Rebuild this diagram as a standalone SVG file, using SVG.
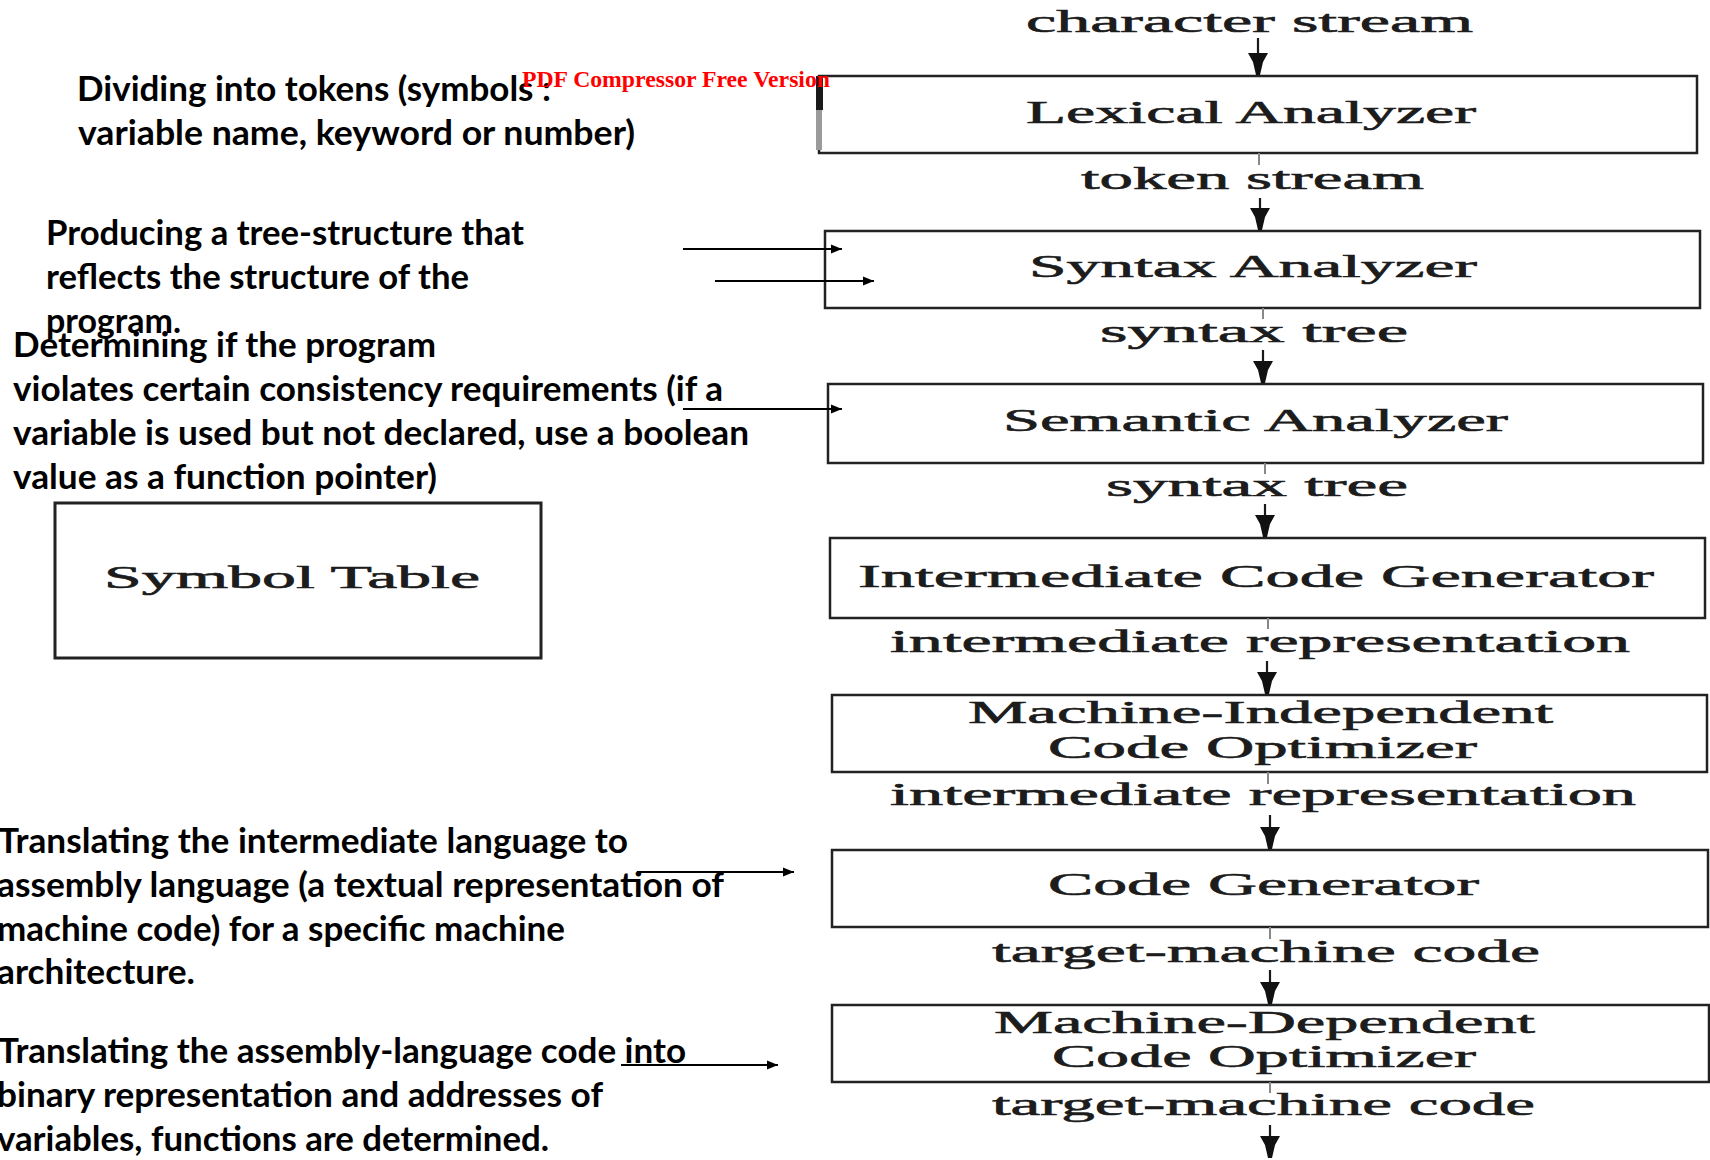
<svg xmlns="http://www.w3.org/2000/svg" width="1710" height="1160" viewBox="0 0 1710 1160">
  <defs>
    <style>
      .phase { fill: #ffffff; stroke: #222222; stroke-width: 2.5; }
      .cm { font-family: "Liberation Serif", "DejaVu Serif", serif; font-size: 32px; fill: #1c1c1c; stroke: #1c1c1c; stroke-width: 0.6; }
      .note { font-family: Lato, "Open Sans", "Liberation Sans", sans-serif; font-size: 35px; font-weight: bold; fill: #000000; }
      .stamp { font-family: "Liberation Serif", serif; font-size: 24px; font-weight: bold; fill: #ff0000; }
      .flow { fill: none; stroke: #1a1a1a; stroke-width: 2.2; }
      .stub { fill: none; stroke: #888888; stroke-width: 2; }
      .pointer { fill: none; stroke: #000000; stroke-width: 2; }
    </style>
    <!-- blunt, wide-shouldered head for the phase pipeline -->
    <marker id="flowHead" markerUnits="userSpaceOnUse" markerWidth="26" markerHeight="26" viewBox="-24 -13 26 26" refX="0" refY="0" orient="auto">
      <path d="M -22,-10 L -22,10 L -13,5 L 0,2 L 0,-2 L -13,-5 Z" fill="#111111"/>
    </marker>
    <!-- small triangular head for the description pointers -->
    <marker id="pointHead" markerUnits="userSpaceOnUse" markerWidth="12" markerHeight="10" viewBox="0 -5 12 10" refX="11" refY="0" orient="auto">
      <path d="M 0,-4.5 L 11,0 L 0,4.5 Z" fill="#000000"/>
    </marker>
  </defs>

  <rect x="0" y="0" width="1710" height="1160" fill="#ffffff"/>

  <!-- compiler phases -->
  <g id="lexical-analyzer">
    <rect class="phase" x="819" y="76" width="878" height="77"/>
    <rect x="816" y="76" width="7" height="34" fill="#1a1a1a"/>
    <rect x="816" y="110" width="6" height="40" fill="#9a9a9a"/>
    <text class="cm" x="1026" y="123" textLength="450" lengthAdjust="spacingAndGlyphs">Lexical Analyzer</text>
  </g>
  <g id="syntax-analyzer">
    <rect class="phase" x="825" y="231" width="875" height="77"/>
    <text class="cm" x="1029" y="277" textLength="448" lengthAdjust="spacingAndGlyphs">Syntax Analyzer</text>
  </g>
  <g id="semantic-analyzer">
    <rect class="phase" x="828" y="384" width="875" height="79"/>
    <text class="cm" x="1003" y="431" textLength="505" lengthAdjust="spacingAndGlyphs">Semantic Analyzer</text>
  </g>
  <g id="intermediate-code-generator">
    <rect class="phase" x="830" y="538" width="875" height="80"/>
    <text class="cm" x="858" y="587" textLength="796" lengthAdjust="spacingAndGlyphs">Intermediate Code Generator</text>
  </g>
  <g id="machine-independent-optimizer">
    <rect class="phase" x="832" y="695" width="875" height="77"/>
    <text class="cm" x="968" y="723" textLength="585" lengthAdjust="spacingAndGlyphs">Machine-Independent</text>
    <text class="cm" x="1048" y="758" textLength="429" lengthAdjust="spacingAndGlyphs">Code Optimizer</text>
  </g>
  <g id="code-generator">
    <rect class="phase" x="832" y="850" width="876" height="77"/>
    <text class="cm" x="1048" y="895" textLength="431" lengthAdjust="spacingAndGlyphs">Code Generator</text>
  </g>
  <g id="machine-dependent-optimizer">
    <rect class="phase" x="832" y="1005" width="877" height="77"/>
    <text class="cm" x="994" y="1033" textLength="541" lengthAdjust="spacingAndGlyphs">Machine-Dependent</text>
    <text class="cm" x="1052" y="1067" textLength="424" lengthAdjust="spacingAndGlyphs">Code Optimizer</text>
  </g>

  <g id="symbol-table">
    <rect x="55" y="503" width="486" height="155" fill="#ffffff" stroke="#222222" stroke-width="3"/>
    <text class="cm" x="104" y="588" textLength="376" lengthAdjust="spacingAndGlyphs">Symbol Table</text>
  </g>

  <!-- stream labels between phases -->
  <g id="stream-labels">
    <text class="cm" x="1026" y="32" textLength="447" lengthAdjust="spacingAndGlyphs">character stream</text>
    <text class="cm" x="1081" y="189" textLength="343" lengthAdjust="spacingAndGlyphs">token stream</text>
    <text class="cm" x="1100" y="342" textLength="308" lengthAdjust="spacingAndGlyphs">syntax tree</text>
    <text class="cm" x="1106" y="496" textLength="302" lengthAdjust="spacingAndGlyphs">syntax tree</text>
    <text class="cm" x="890" y="652" textLength="740" lengthAdjust="spacingAndGlyphs">intermediate representation</text>
    <text class="cm" x="890" y="805" textLength="746" lengthAdjust="spacingAndGlyphs">intermediate representation</text>
    <text class="cm" x="992" y="962" textLength="548" lengthAdjust="spacingAndGlyphs">target-machine code</text>
    <text class="cm" x="992" y="1115" textLength="543" lengthAdjust="spacingAndGlyphs">target-machine code</text>
  </g>

  <!-- phase descriptions -->
  <g id="note-lexical">
    <text class="note" x="77" y="101" textLength="474" lengthAdjust="spacingAndGlyphs">Dividing into tokens (symbols :</text>
    <text class="note" x="78" y="145" textLength="557" lengthAdjust="spacingAndGlyphs">variable name, keyword or number)</text>
  </g>
  <g id="note-syntax">
    <text class="note" x="46" y="245" textLength="478" lengthAdjust="spacingAndGlyphs">Producing a tree-structure that</text>
    <text class="note" x="46" y="289" textLength="423" lengthAdjust="spacingAndGlyphs">reflects the structure of the</text>
    <text class="note" x="46" y="333" textLength="135" lengthAdjust="spacingAndGlyphs">program.</text>
  </g>
  <g id="note-semantic">
    <text class="note" x="13" y="357" textLength="423" lengthAdjust="spacingAndGlyphs">Determining if the program</text>
    <text class="note" x="13" y="401" textLength="710" lengthAdjust="spacingAndGlyphs">violates certain consistency requirements (if a</text>
    <text class="note" x="13" y="445" textLength="736" lengthAdjust="spacingAndGlyphs">variable is used but not declared, use a boolean</text>
    <text class="note" x="13" y="489" textLength="424" lengthAdjust="spacingAndGlyphs">value as a function pointer)</text>
  </g>
  <g id="note-codegen">
    <text class="note" x="-2" y="853" textLength="630" lengthAdjust="spacingAndGlyphs">Translating the intermediate language to</text>
    <text class="note" x="-3" y="897" textLength="727" lengthAdjust="spacingAndGlyphs">assembly language (a textual representation of</text>
    <text class="note" x="-3" y="941" textLength="568" lengthAdjust="spacingAndGlyphs">machine code) for a specific machine</text>
    <text class="note" x="-3" y="984" textLength="198" lengthAdjust="spacingAndGlyphs">architecture.</text>
  </g>
  <g id="note-assembler">
    <text class="note" x="-2" y="1063" textLength="688" lengthAdjust="spacingAndGlyphs">Translating the assembly-language code into</text>
    <text class="note" x="-3" y="1107" textLength="606" lengthAdjust="spacingAndGlyphs">binary representation and addresses of</text>
    <text class="note" x="-3" y="1151" textLength="552" lengthAdjust="spacingAndGlyphs">variables, functions are determined.</text>
  </g>

  <text class="stamp" x="522" y="87" textLength="308" lengthAdjust="spacingAndGlyphs">PDF Compressor Free Version</text>

  <!-- connectors -->
  <g id="connectors">
    <line class="flow" x1="1258" y1="38" x2="1258" y2="75" marker-end="url(#flowHead)"/>

    <line class="stub" x1="1259" y1="153" x2="1259" y2="165"/>
    <line class="flow" x1="1260" y1="198" x2="1260" y2="230" marker-end="url(#flowHead)"/>

    <line class="stub" x1="1263" y1="308" x2="1263" y2="319"/>
    <line class="flow" x1="1263" y1="350" x2="1263" y2="383" marker-end="url(#flowHead)"/>

    <line class="stub" x1="1265" y1="463" x2="1265" y2="474"/>
    <line class="flow" x1="1265" y1="504" x2="1265" y2="537" marker-end="url(#flowHead)"/>

    <line class="stub" x1="1268" y1="618" x2="1268" y2="629"/>
    <line class="flow" x1="1267" y1="661" x2="1267" y2="694" marker-end="url(#flowHead)"/>

    <line class="stub" x1="1268" y1="772" x2="1268" y2="784"/>
    <line class="flow" x1="1270" y1="815" x2="1270" y2="849" marker-end="url(#flowHead)"/>

    <line class="stub" x1="1270" y1="927" x2="1270" y2="939"/>
    <line class="flow" x1="1270" y1="970" x2="1270" y2="1004" marker-end="url(#flowHead)"/>

    <line class="stub" x1="1270" y1="1082" x2="1270" y2="1093"/>
    <line class="flow" x1="1270" y1="1125" x2="1270" y2="1158" marker-end="url(#flowHead)"/>

    <line class="pointer" x1="683" y1="249" x2="842" y2="249" marker-end="url(#pointHead)"/>
    <line class="pointer" x1="715" y1="281" x2="874" y2="281" marker-end="url(#pointHead)"/>
    <line class="pointer" x1="683" y1="409" x2="842" y2="409" marker-end="url(#pointHead)"/>
    <line class="pointer" x1="637" y1="872" x2="794" y2="872" marker-end="url(#pointHead)"/>
    <line class="pointer" x1="621" y1="1065" x2="778" y2="1065" marker-end="url(#pointHead)"/>
  </g>
</svg>
